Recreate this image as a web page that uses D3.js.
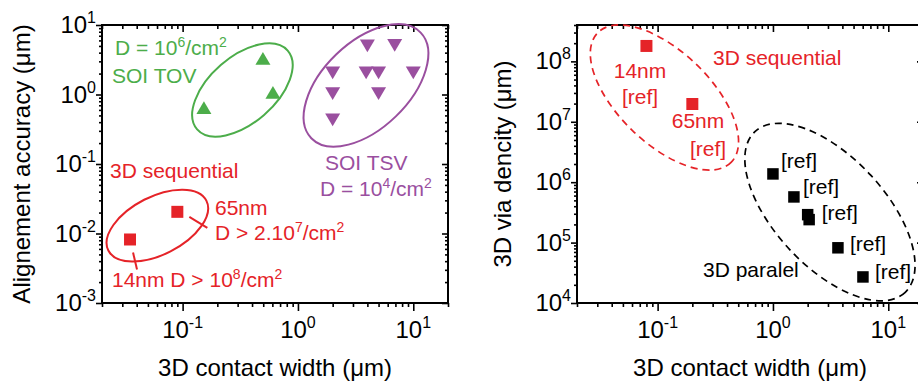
<!DOCTYPE html>
<html>
<head>
<meta charset="utf-8">
<script src="https://cdn.jsdelivr.net/npm/d3@7"></script>
<style>
  body { margin: 0; background: #fff; }
  text { font-family: "Liberation Sans", Arial, Helvetica, sans-serif; }
</style>
</head>
<body>
<svg id="chart" width="918" height="383"></svg>
<script>
// ---- left panel: alignment accuracy vs contact width
const tovWidth = [0.153, 0.497, 0.607];
const tovAccuracy = [0.65, 3.3, 1.07];
const tsvWidth = [4, 6.9, 2, 3.9, 5, 10, 2, 5, 2];
const tsvAccuracy = [5, 5.1, 2.05, 2.05, 2.05, 2.05, 1.03, 1.03, 0.43];
const seqWidthL = [0.035, 0.09];
const seqAccuracy = [0.0082, 0.0205];

// ---- right panel: via density vs contact width
const seqWidthR = [0.08, 0.2];
const seqDensity = [1.8e8, 1.97e7];
const parWidth = [1, 1.52, 2, 2.06, 3.66, 6.03];
const parDensity = [1.37e6, 5.7e5, 2.9e5, 2.4e5, 8.2e4, 2.7e4];

const xTicks = [0.1, 1, 10];
const yTicksL = [1e-3, 1e-2, 1e-1, 1, 10];
const yTicksR = [1e4, 1e5, 1e6, 1e7, 1e8];

const red = "#e52328", green = "#4cad4a", purple = "#9a4f9f";

const svg = d3.select("#chart");

const xL = d3.scaleLog().domain([0.02, 20]).range([102, 448]);
const yL = d3.scaleLog().domain([1e-3, 10]).range([303, 25]);
const xR = d3.scaleLog().domain([0.02, 20]).range([577, 923]);
const yR = d3.scaleLog().domain([1e4, 4e8]).range([303, 25]);

function minorTicks(domain) {
  const out = [];
  const [lo, hi] = domain;
  for (let k = Math.floor(Math.log10(lo)); k <= Math.ceil(Math.log10(hi)); k++) {
    for (let m = 2; m <= 9; m++) {
      const v = m * Math.pow(10, k);
      if (v >= lo && v <= hi) out.push(v);
    }
  }
  return out;
}

// text with ^superscripts
function addText(g, x, y, str, opt = {}) {
  const rise = opt.rise || 8;
  const t = g.append("text")
    .attr("x", x).attr("y", y)
    .attr("font-size", opt.size || 21)
    .attr("fill", opt.color || "#000")
    .attr("text-anchor", opt.anchor || "start");
  if (opt.transform) t.attr("transform", opt.transform);
  let raised = false;
  str.split(/(\^[^\/\s]+)/).filter(s => s).forEach(s => {
    if (s[0] === "^") {
      t.append("tspan").attr("dy", -rise).attr("font-size", opt.supSize || 14).text(s.slice(1));
      raised = true;
    } else {
      t.append("tspan").attr("dy", raised ? rise : 0).text(s);
      raised = false;
    }
  });
  return t;
}

function powLabel(v) {
  const e = Math.round(Math.log10(v));
  return "10^" + (e < 0 ? "-" + (-e) : e);
}

function drawFrame(g, x, y, yTicks) {
  const [x0, x1] = x.range();
  const [y0, y1] = y.range();
  const xMinor = minorTicks(x.domain());
  const yMinor = minorTicks(y.domain());

  const ax = (axis, tr, size) => g.append("g")
    .attr("transform", tr)
    .call(axis.tickSize(size).tickFormat(""))
    .call(s => s.select(".domain").remove())
    .call(s => s.selectAll("line").attr("stroke", "#000").attr("stroke-width", 1.6));

  // bottom, outward
  ax(d3.axisBottom(x).tickValues(xTicks), `translate(0,${y0})`, 8);
  ax(d3.axisBottom(x).tickValues(xMinor), `translate(0,${y0})`, 4);
  // top, inward
  ax(d3.axisBottom(x).tickValues(xTicks), `translate(0,${y1})`, 7);
  ax(d3.axisBottom(x).tickValues(xMinor), `translate(0,${y1})`, 4);
  // left, outward
  ax(d3.axisLeft(y).tickValues(yTicks), `translate(${x0},0)`, 6);
  ax(d3.axisLeft(y).tickValues(yMinor), `translate(${x0},0)`, 3);
  // right, inward
  ax(d3.axisRight(y).tickValues(yTicks), `translate(${x1},0)`, -6);
  ax(d3.axisRight(y).tickValues(yMinor), `translate(${x1},0)`, -3);

  g.append("rect")
    .attr("x", x0).attr("y", y1)
    .attr("width", x1 - x0).attr("height", y0 - y1)
    .attr("fill", "none").attr("stroke", "#000").attr("stroke-width", 2);

  xTicks.forEach(v => addText(g, x(v), 338, powLabel(v),
    { size: 24, supSize: 16, rise: 10, anchor: "middle" }));
  yTicks.forEach(v => addText(g, x0 - 6, y(v) + 8, powLabel(v),
    { size: 24, supSize: 16, rise: 10, anchor: "end" }));
}

// bbox-centred triangles
const triUp = { draw(ctx, size) { const w = Math.sqrt(size) * 1.15, h = w * 0.85;
  ctx.moveTo(0, -h / 2); ctx.lineTo(w / 2, h / 2); ctx.lineTo(-w / 2, h / 2); ctx.closePath(); } };
const triDown = { draw(ctx, size) { const w = Math.sqrt(size) * 1.15, h = w * 0.85;
  ctx.moveTo(0, h / 2); ctx.lineTo(w / 2, -h / 2); ctx.lineTo(-w / 2, -h / 2); ctx.closePath(); } };

function points(g, xs, ys, x, y, type, size, color) {
  g.selectAll(null).data(xs.map((v, i) => [v, ys[i]])).enter()
    .append("path")
    .attr("transform", d => `translate(${x(d[0])},${y(d[1])})`)
    .attr("d", d3.symbol(type, size))
    .attr("fill", color);
}

function ellipse(g, cx, cy, x, y, a, b, angle, color, dash) {
  const px = x(cx), py = y(cy);
  g.append("ellipse")
    .attr("cx", 0).attr("cy", 0).attr("rx", a).attr("ry", b)
    .attr("transform", `translate(${px},${py}) rotate(${angle})`)
    .attr("fill", "none").attr("stroke", color).attr("stroke-width", dash ? 1.7 : 2)
    .attr("stroke-dasharray", dash || null);
}

// ================= left panel
const gL = svg.append("g");
drawFrame(gL, xL, yL, yTicksL);

ellipse(gL, 0.33, 1.16, xL, yL, 60, 33, -41, green);
ellipse(gL, 3.89, 1.35, xL, yL, 76, 43, -44, purple);
ellipse(gL, 0.0604, 0.013, xL, yL, 55, 29, -27, red);

points(gL, tovWidth, tovAccuracy, xL, yL, triUp, 170, green);
points(gL, tsvWidth, tsvAccuracy, xL, yL, triDown, 170, purple);
points(gL, seqWidthL, seqAccuracy, xL, yL, d3.symbolSquare, 144, red);

// connector ticks from the squares to their labels
gL.append("line")
  .attr("x1", xL(seqWidthL[1]) + 12).attr("y1", yL(seqAccuracy[1]) + 5)
  .attr("x2", xL(seqWidthL[1]) + 30).attr("y2", yL(seqAccuracy[1]) + 16)
  .attr("stroke", red).attr("stroke-width", 2);
gL.append("line")
  .attr("x1", xL(seqWidthL[0]) + 3).attr("y1", yL(seqAccuracy[0]) + 13)
  .attr("x2", xL(seqWidthL[0]) + 7).attr("y2", yL(seqAccuracy[0]) + 30)
  .attr("stroke", red).attr("stroke-width", 2);

addText(gL, 115, 55, "D = 10^6/cm^2", { color: green });
addText(gL, 112, 83, "SOI TOV", { color: green });
addText(gL, 325, 170, "SOI TSV", { color: purple });
addText(gL, 320, 196, "D = 10^4/cm^2", { color: purple });
addText(gL, 110, 178, "3D sequential", { color: red });
addText(gL, 215, 215, "65nm", { color: red });
addText(gL, 215, 240, "D > 2.10^7/cm^2", { color: red });
addText(gL, 112, 287, "14nm D > 10^8/cm^2", { color: red });

addText(gL, 30, 164, "Alignement accuracy (μm)",
  { size: 24, anchor: "middle", transform: "rotate(-90,30,164)" });
addText(gL, 275, 376, "3D contact width (μm)", { size: 24, anchor: "middle" });

// ================= right panel
const gR = svg.append("g");
drawFrame(gR, xR, yR, yTicksR);

ellipse(gR, 0.1146, 2.52e7, xR, yR, 93, 46, 44, red, "7,5");
ellipse(gR, 3.12, 3.2e5, xR, yR, 110, 55, 47, "#000", "7,5");

points(gR, seqWidthR, seqDensity, xR, yR, d3.symbolSquare, 144, red);
points(gR, parWidth, parDensity, xR, yR, d3.symbolSquare, 132, "#000");

// [ref] labels next to the parallel points
const refDx = [8, 9, 14, null, 12, 12];
const refDy = [-6, -3, 5, null, 3, 2];
parWidth.forEach((w, i) => {
  if (refDx[i] === null) return;
  addText(gR, xR(w) + refDx[i], yR(parDensity[i]) + refDy[i], "[ref]");
});

addText(gR, 713, 65, "3D sequential", { color: red });
addText(gR, 640, 78, "14nm", { color: red, anchor: "middle" });
addText(gR, 640, 104, "[ref]", { color: red, anchor: "middle" });
addText(gR, 698, 128, "65nm", { color: red, anchor: "middle" });
addText(gR, 708, 156, "[ref]", { color: red, anchor: "middle" });
addText(gR, 703, 277, "3D paralel", { size: 21 });

addText(gR, 511, 164, "3D via dencity (μm)",
  { size: 24, anchor: "middle", transform: "rotate(-90,511,164)" });
addText(gR, 750, 376, "3D contact width (μm)", { size: 24, anchor: "middle" });
</script>
</body>
</html>
